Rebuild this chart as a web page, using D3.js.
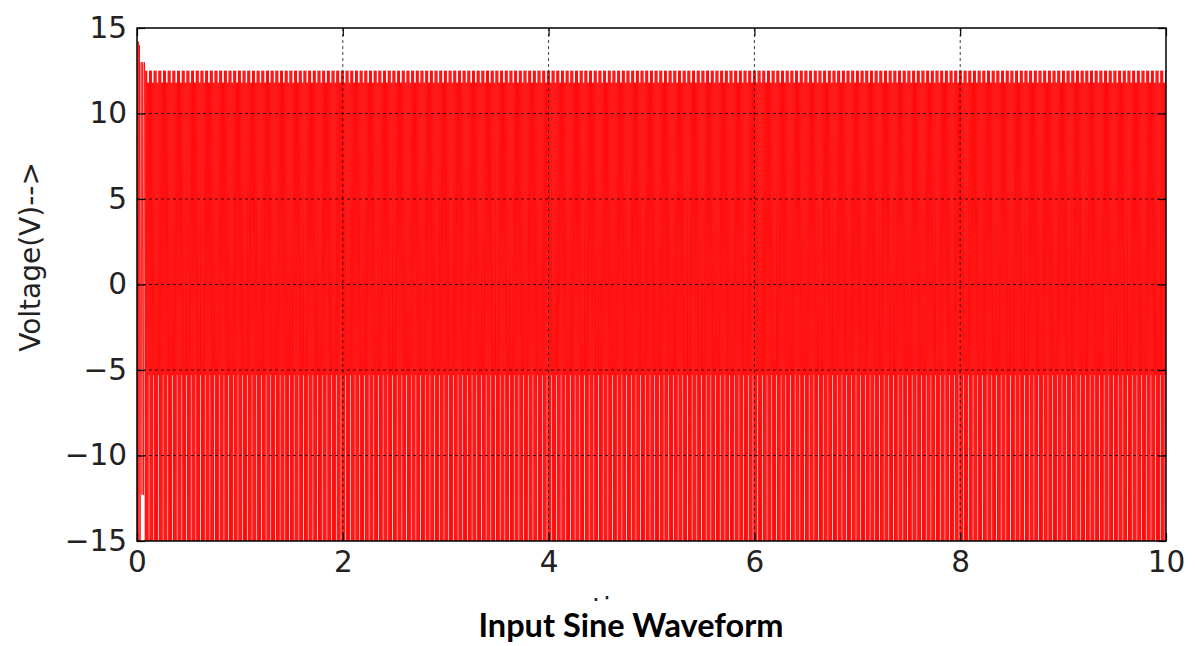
<!DOCTYPE html>
<html>
<head>
<meta charset="utf-8">
<script src="https://cdn.jsdelivr.net/npm/d3@7"></script>
<style>
  body { margin: 0; background: #fff; }
  .tick text { font-family: "DejaVu Sans", sans-serif; font-size: 29.5px; fill: #222; }
</style>
</head>
<body>
<div id="chart-area"></div>
<script>

// Data

var xTicks = [0, 2, 4, 6, 8, 10];
var yTicks = [-15, -10, -5, 0, 5, 10, 15];

// start-up transient (time s, voltage V)
var transientTime = [0.000, 0.006, 0.012, 0.018, 0.024, 0.030, 0.040, 0.048, 0.056, 0.064, 0.072];
var transientVolts = [14.4, -15.6, 14.2, -15.6, 14.0, -15.6, 13.0, -12.3, 13.0, -12.3, 13.0];

// one steady-state cycle of the sampled sine, voltages at equal sub-steps
var cycleVolts = [12.5, -15.6, 12.5, -15.6, 12.5, -15.6, 11.8, -15.6, 11.8, -5.3];
var cyclePeriod = 0.0455;   // s
var steadyStart = 0.076;    // s
var endTime = 10;

// Build the series: transient followed by the repeated cycle
var series = transientTime.map((t, i) => { return {t: t, v: transientVolts[i]}; });
var step = cyclePeriod / cycleVolts.length;
for (var k = 0; steadyStart + k * step <= endTime; k++) {
	series.push({t: steadyStart + k * step, v: cycleVolts[k % cycleVolts.length]});
}

// Setup the canvas

var margin = {top: 28, right: 29, bottom: 105, left: 137};
var width = 1195 - margin.left - margin.right;
var height = 646 - margin.top - margin.bottom;

var svg = d3.select("#chart-area").append("svg")
	.attr("width", 1195)
	.attr("height", 646);

var g = svg.append("g")
	.attr("transform", "translate(" + margin.left + ", " + margin.top + ")");

// Scales

var x = d3.scaleLinear().domain([0, 10]).range([0, width]);
var y = d3.scaleLinear().domain([-15, 15]).range([height, 0]);

g.append("clipPath")
	.attr("id", "plot-clip")
	.append("rect")
		.attr("width", width)
		.attr("height", height);

// Waveform

var line = d3.line()
	.x((d) => { return x(d.t); })
	.y((d) => { return y(d.v); });

g.append("path")
	.datum(series)
	.attr("clip-path", "url(#plot-clip)")
	.attr("fill", "none")
	.attr("stroke", "#ff0000")
	.attr("stroke-width", 0.8)
	.attr("d", line);

// Grid (drawn over the line, as in the original)

g.selectAll(".hgrid")
	.data(yTicks.slice(1, -1))
	.enter().append("line")
		.attr("class", "hgrid")
		.attr("x1", 0)
		.attr("x2", width)
		.attr("y1", (d) => { return y(d); })
		.attr("y2", (d) => { return y(d); })
		.attr("stroke", "#000")
		.attr("stroke-opacity", 0.75)
		.attr("stroke-dasharray", "3,3");

g.selectAll(".vgrid")
	.data(xTicks.slice(1, -1))
	.enter().append("line")
		.attr("class", "vgrid")
		.attr("y1", 0)
		.attr("y2", height)
		.attr("x1", (d) => { return x(d); })
		.attr("x2", (d) => { return x(d); })
		.attr("stroke", "#000")
		.attr("stroke-opacity", 0.75)
		.attr("stroke-dasharray", "3,3");

// Axes, ticks pointing inwards on all four sides

var xAxis = d3.axisBottom(x).tickValues(xTicks).tickSize(-8).tickSizeOuter(0).tickPadding(10);
g.append("g")
	.attr("class", "x axis")
	.attr("transform", "translate(0, " + height + ")")
	.call(xAxis);

var yAxis = d3.axisLeft(y).tickValues(yTicks).tickSize(-8).tickSizeOuter(0).tickPadding(10);
g.append("g")
	.attr("class", "y axis")
	.call(yAxis);

g.append("g")
	.attr("transform", "translate(" + width + ", 0)")
	.call(d3.axisRight(y).tickValues(yTicks).tickSize(-8).tickSizeOuter(0).tickFormat(""));

g.append("g")
	.call(d3.axisTop(x).tickValues(xTicks).tickSize(-8).tickSizeOuter(0).tickFormat(""));

g.selectAll(".domain").remove();
g.selectAll(".tick line").attr("stroke", "#000").attr("stroke-width", 1.2);

g.append("rect")
	.attr("width", width)
	.attr("height", height)
	.attr("fill", "none")
	.attr("stroke", "#000")
	.attr("stroke-width", 1.5);

// Labels

svg.append("text")
	.attr("transform", "translate(40, 257) rotate(-90)")
	.attr("text-anchor", "middle")
	.attr("font-family", "DejaVu Sans, sans-serif")
	.attr("font-size", "28px")
	.attr("fill", "#222")
	.text("Voltage(V)-->");

// x label: only its very top peeks out above the caption box
svg.append("clipPath")
	.attr("id", "xlabel-clip")
	.append("rect")
		.attr("x", 0)
		.attr("y", 590)
		.attr("width", 1195)
		.attr("height", 11);

svg.append("text")
	.attr("clip-path", "url(#xlabel-clip)")
	.attr("x", 592)
	.attr("y", 618)
	.attr("font-family", "DejaVu Sans, sans-serif")
	.attr("font-size", "28px")
	.attr("fill", "#222")
	.text("time-->");

svg.append("text")
	.attr("x", 631)
	.attr("y", 637)
	.attr("text-anchor", "middle")
	.attr("font-family", "Lato, sans-serif")
	.attr("font-weight", "bold")
	.attr("font-size", "32.5px")
	.attr("fill", "#000")
	.text("Input Sine Waveform");

</script>
</body>
</html>
